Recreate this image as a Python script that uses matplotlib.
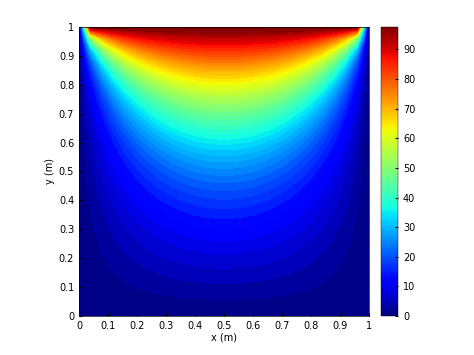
import numpy as np
import matplotlib
matplotlib.use("Agg")
import matplotlib.pyplot as plt
from matplotlib.cm import ScalarMappable
from matplotlib.colors import Normalize

# plate temperature problem: top edge hot, the others cold
n_nodes = 26
t_top = 100.0
t_left = 0.0
t_right = 0.0
t_bottom = 0.0
cbar_max = 97.6
x_ticks = [0, 0.1, 0.2, 0.3, 0.4, 0.5, 0.6, 0.7, 0.8, 0.9, 1]
cbar_ticks = [0, 10, 20, 30, 40, 50, 60, 70, 80, 90]

x = np.linspace(0, 1, n_nodes)
y = np.linspace(0, 1, n_nodes)
T = np.zeros((n_nodes, n_nodes))
T[-1, 1:-1] = t_top
T[:, 0] = t_left
T[:, -1] = t_right
T[0, :] = t_bottom

# jacobi iterations for laplace equation
for it in range(6000):
    T[1:-1, 1:-1] = 0.25 * (T[2:, 1:-1] + T[:-2, 1:-1] + T[1:-1, 2:] + T[1:-1, :-2])

X, Y = np.meshgrid(x, y)

fig = plt.figure(figsize=(4.74, 3.55), dpi=100)
ax = fig.add_axes([0.1667, 0.110, 0.611, 0.814])
levels = np.linspace(0, cbar_max, 50)
ax.contourf(X, Y, T, levels=levels, cmap='jet', extend='max')
ax.set_xlim(0, 1)
ax.set_ylim(0, 1)
ax.set_xticks(x_ticks)
ax.set_yticks(x_ticks)
ax.set_xticklabels([str(v) for v in x_ticks])
ax.set_yticklabels([str(v) for v in x_ticks])
ax.tick_params(direction='in', labelsize=7, length=2)
for s in ax.spines.values():
    s.set_linewidth(0.5)
ax.set_xlabel('x (m)', fontsize=7, labelpad=1)
ax.set_ylabel('y (m)', fontsize=7, labelpad=3)

cax = fig.add_axes([0.804, 0.110, 0.036, 0.814])
sm = ScalarMappable(norm=Normalize(0, cbar_max), cmap='jet')
cb = fig.colorbar(sm, cax=cax, ticks=cbar_ticks)
cb.ax.tick_params(direction='in', labelsize=7, length=2)
cb.outline.set_linewidth(0.3)

plt.savefig('out.png', dpi=100)
